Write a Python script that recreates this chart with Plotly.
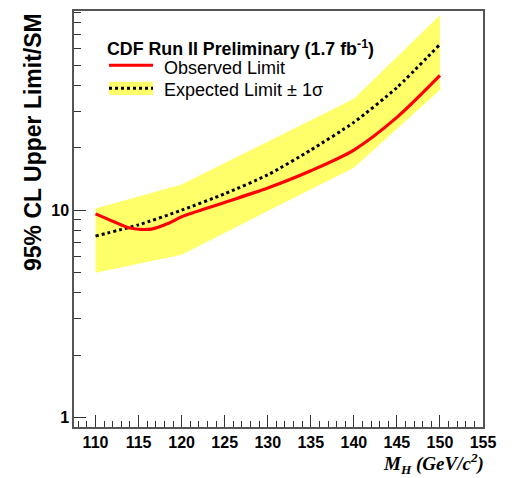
import plotly.graph_objects as go

# ---- data ----
mass_obs = [110, 112, 114, 116.5, 118.5, 120, 125, 130, 135, 140, 145, 150]
obs_limit = [9.6, 8.85, 8.2, 8.1, 8.65, 9.3, 10.9, 12.8, 15.5, 19.5, 28.0, 44.6]

mass_exp = [110, 115, 120, 125, 130, 135, 140, 145, 150]
exp_limit = [7.5, 8.5, 10.0, 12.0, 14.8, 19.5, 26.5, 39.0, 63.0]

mass_band = [110, 120, 130, 140, 150]
band_lo = [5.0, 6.1, 9.9, 16.0, 38.0]
band_hi = [10.2, 13.3, 21.4, 34.4, 87.0]

x_ticks = list(range(110, 160, 5))
y_ticks = [1, 10]
y_minor = [v * d for d in (1, 10) for v in range(2, 10)]

W, H = 514, 478
L, R, T, B = 74, 31, 9, 51
PW, PH = W - L - R, H - T - B


def px(x):
    return (x - L) / PW


def py(y):
    return (H - B - y) / PH


BAND = "#FFFF6A"
fig = go.Figure()
fig.add_trace(go.Scatter(x=mass_band, y=band_lo, mode="lines",
                         line=dict(width=0, color=BAND), showlegend=False,
                         hoverinfo="skip"))
fig.add_trace(go.Scatter(x=mass_band, y=band_hi, mode="lines", fill="tonexty",
                         fillcolor=BAND, line=dict(width=0, color=BAND),
                         showlegend=False, hoverinfo="skip"))
fig.add_trace(go.Scatter(x=mass_exp, y=exp_limit, mode="lines",
                         line=dict(color="black", width=3, dash="3px,3px",
                                   shape="spline", smoothing=0.6),
                         showlegend=False, name="Expected Limit ± 1σ"))
fig.add_trace(go.Scatter(x=mass_obs, y=obs_limit, mode="lines",
                         line=dict(color="#FF0000", width=3.2,
                                   shape="spline", smoothing=0.8),
                         showlegend=False, name="Observed Limit"))

tickfont = dict(family="Liberation Sans", size=16, color="black")
fig.update_xaxes(range=[107.5, 155], tickvals=x_ticks,
                 ticktext=[f"<b>{t}</b>" for t in x_ticks],
                 ticks="inside", ticklen=12, tickwidth=1, tickcolor="#333",
                 minor=dict(dtick=1, tick0=110, ticks="inside", ticklen=6,
                            tickcolor="#333", tickwidth=1),
                 showline=True, linecolor="#555", linewidth=1.5, mirror=True,
                 showgrid=False, zeroline=False, tickfont=tickfont)
fig.update_yaxes(type="log", range=[-0.045, 1.96], tickvals=y_ticks,
                 ticktext=[f"<b>{t}</b>" for t in y_ticks],
                 ticks="inside", ticklen=12, tickwidth=1, tickcolor="#333",
                 minor=dict(tickvals=y_minor, ticks="inside", ticklen=7,
                            tickcolor="#333", tickwidth=1),
                 showline=True, linecolor="#555", linewidth=1.5, mirror=True,
                 showgrid=False, zeroline=False, tickfont=tickfont)

ann = []
# axis titles
ann.append(dict(text="<b><i>M</i></b><sub><b><i>H</i></b></sub><b><i> (GeV/c<sup>2</sup>)</i></b>",
                xref="paper", yref="paper", x=px(486), y=py(479.5),
                xanchor="right", yanchor="bottom", showarrow=False,
                font=dict(family="Liberation Serif", size=19, color="black")))
ann.append(dict(text="<b>95% CL Upper Limit/SM</b>", textangle=-90,
                xref="paper", yref="paper", x=px(33), y=py(9),
                xanchor="center", yanchor="top", showarrow=False,
                font=dict(family="Liberation Sans", size=23, color="black")))
# legend
ann.append(dict(text="<b>CDF Run II Preliminary (1.7 fb<sup>-1</sup>)</b>",
                xref="paper", yref="paper", x=px(105), y=py(46),
                xanchor="left", yanchor="middle", showarrow=False,
                font=dict(family="Liberation Sans", size=17.8, color="black")))
ann.append(dict(text="Observed Limit", xref="paper", yref="paper",
                x=px(162), y=py(66.5), xanchor="left", yanchor="middle",
                showarrow=False,
                font=dict(family="Liberation Sans", size=18, color="black")))
ann.append(dict(text="Expected Limit ± 1σ", xref="paper", yref="paper",
                x=px(162), y=py(88), xanchor="left", yanchor="middle",
                showarrow=False,
                font=dict(family="Liberation Sans", size=18, color="black")))

shapes = [
    dict(type="line", xref="paper", yref="paper", x0=px(109), x1=px(153),
         y0=py(63.5), y1=py(63.5), line=dict(color="#FF0000", width=3)),
    dict(type="rect", xref="paper", yref="paper", x0=px(109), x1=px(153),
         y0=py(80), y1=py(93.5), fillcolor=BAND, line=dict(width=0)),
    dict(type="line", xref="paper", yref="paper", x0=px(109), x1=px(153),
         y0=py(86.5), y1=py(86.5),
         line=dict(color="black", width=3, dash="3px,3px")),
]

fig.update_layout(width=W, height=H, margin=dict(l=L, r=R, t=T, b=B),
                  plot_bgcolor="white", paper_bgcolor="white",
                  annotations=ann, shapes=shapes, showlegend=False,
                  font=dict(family="Liberation Sans"))

fig.write_html("out.html")
